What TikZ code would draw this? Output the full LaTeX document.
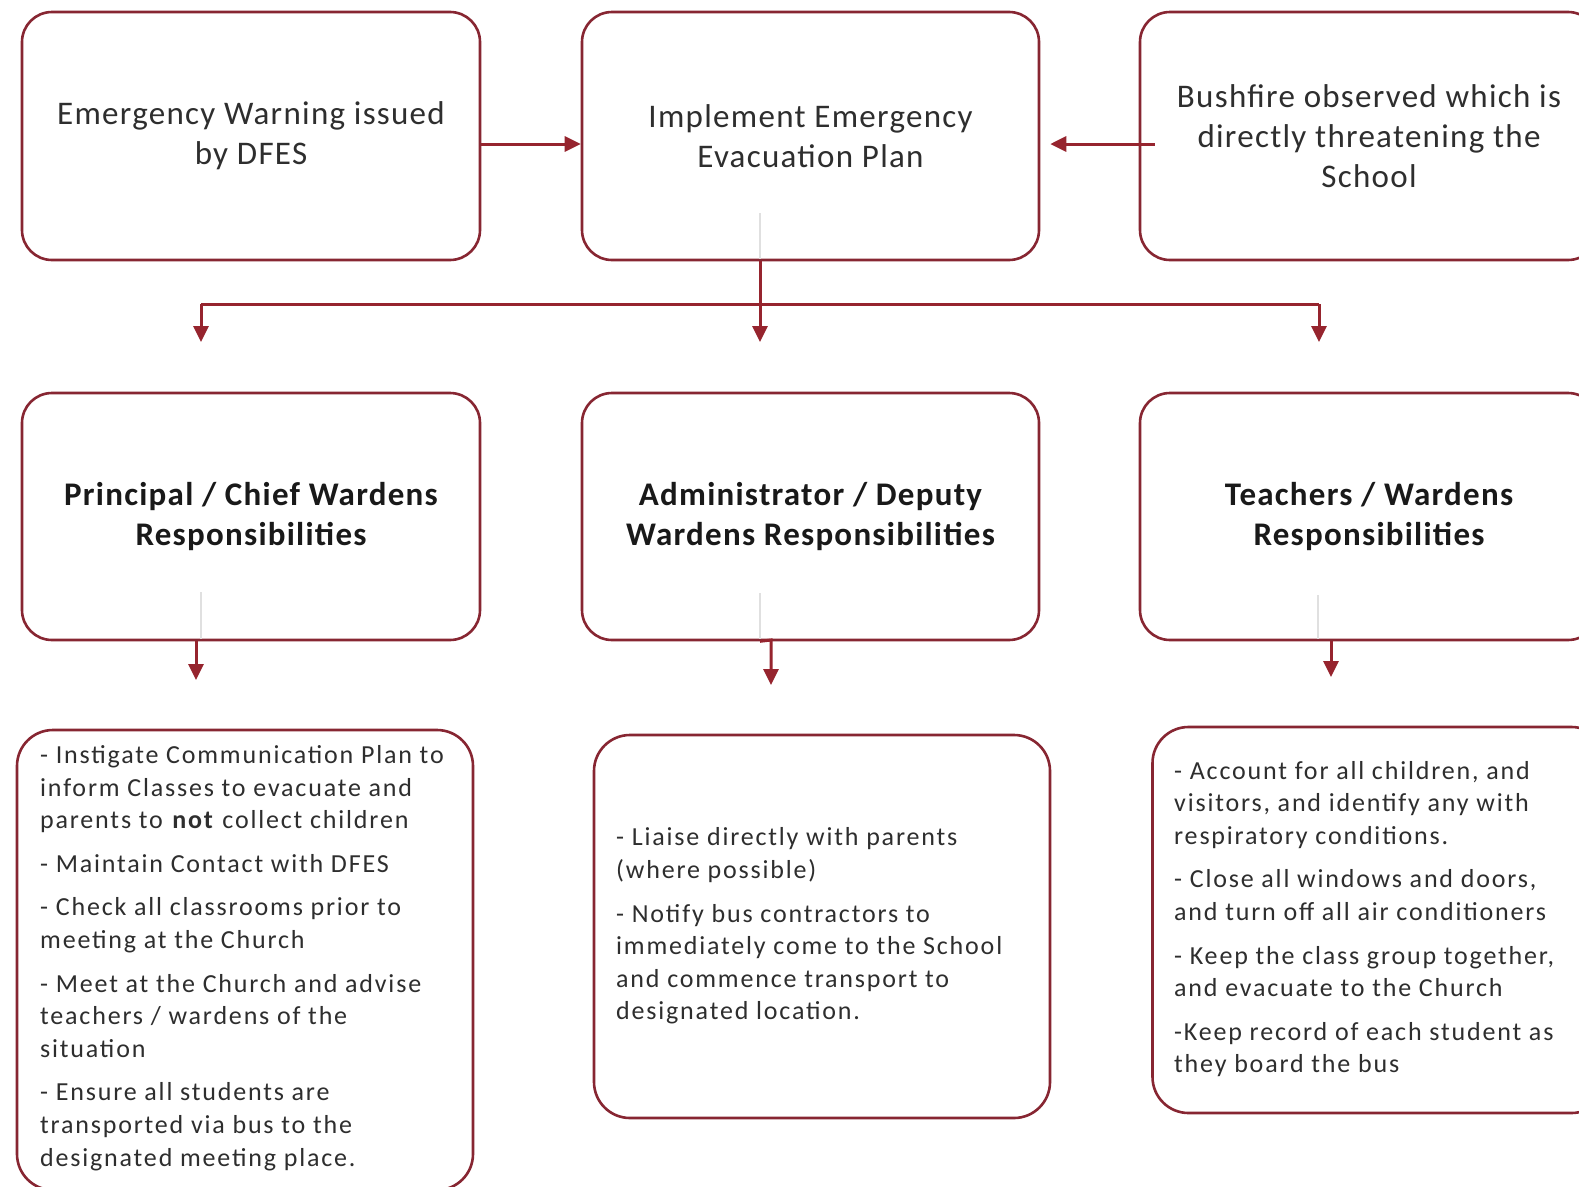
\documentclass[tikz,border=0pt]{standalone}
\usepackage{fontspec}
\setmainfont{Carlito}
\newfontfamily\topfont[LetterSpace=3.9]{Carlito}
\newfontfamily\headfont[LetterSpace=3.8]{Carlito}
\newfontfamily\bodyfont[LetterSpace=7]{Carlito}
\usetikzlibrary{arrows.meta}
\definecolor{bord}{RGB}{135,38,50}
\definecolor{arr}{RGB}{150,36,46}
\begin{document}
\begin{tikzpicture}[x=1pt,y=-1pt,
 box/.style={draw=bord, line width=2.6pt, rounded corners=30pt, fill=white, inner sep=0pt},
 conn/.style={draw=arr, line width=3pt, -{Triangle[length=16pt,width=15pt]}},
 plain/.style={draw=arr, line width=3pt},
 faint/.style={draw=black!12, line width=1.2pt},
 toptext/.style={font=\topfont\fontsize{33}{40}\selectfont, align=center, text=black!82},
 headtext/.style={font=\headfont\fontsize{33}{40}\selectfont\bfseries, align=center, text=black!90},
 bodytext/.style={font=\bodyfont\fontsize{26}{32.6}\selectfont, align=left, inner sep=0pt, anchor=west, text=black!82},
]
\useasboundingbox (0,0) rectangle (1579,1186);
\fill[white] (0,0) rectangle (1579,1186);
\begin{scope}
\clip (0,0) rectangle (1579,1186);
% top row
\node[box, toptext, minimum width=458pt, minimum height=248pt] (ew) at (251,136) {Emergency Warning issued\\by DFES};
\node[box, toptext, minimum width=457pt, minimum height=248pt] (ip) at (810.5,136) {Implement Emergency\\Evacuation Plan};
\node[box, toptext, minimum width=458pt, minimum height=248pt] (bf) at (1369,136) {Bushfire observed which is\\directly threatening the\\School};
% middle row
\node[box, headtext, minimum width=458pt, minimum height=247pt] (pc) at (251,516.5) {Principal / Chief Wardens\\Responsibilities};
\node[box, headtext, minimum width=457pt, minimum height=247pt] (ad) at (810.5,516.5) {Administrator / Deputy\\Wardens Responsibilities};
\node[box, headtext, minimum width=458pt, minimum height=247pt] (tw) at (1369,516.5) {Teachers / Wardens\\Responsibilities};
% bottom row boxes
\node[box, rounded corners=36pt, minimum width=456pt, minimum height=460pt] (bl) at (245,960) {};
\node[box, rounded corners=36pt, minimum width=456pt, minimum height=383pt] (bm) at (822,926.5) {};
\node[box, rounded corners=36pt, minimum width=455pt, minimum height=386pt] (br) at (1380,920) {};
% bottom texts
\node[bodytext] (blt) at (40,958) {- Instigate Communication Plan to\\inform Classes to evacuate and\\parents to \textbf{not} collect children\\[11pt]- Maintain Contact with DFES\\[11pt]- Check all classrooms prior to\\meeting at the Church\\[11pt]- Meet at the Church and advise\\teachers / wardens of the\\situation\\[11pt]- Ensure all students are\\transported via bus to the\\designated meeting place.};
\node[bodytext] (bmt) at (616,926) {- Liaise directly with parents\\(where possible)\\[11pt]- Notify bus contractors to\\immediately come to the School\\and commence transport to\\designated location.};
\node[bodytext] (brt) at (1174,919) {- Account for all children, and\\visitors, and identify any with\\respiratory conditions.\\[11pt]- Close all windows and doors,\\and turn off all air conditioners\\[11pt]- Keep the class group together,\\and evacuate to the Church\\[11pt]-Keep record of each student as\\they board the bus};
% faint artefact lines
\draw[faint] (760,213) -- (760,259);
\draw[faint] (201,592) -- (201,639);
\draw[faint] (760,593) -- (760,639);
\draw[faint] (1318,595) -- (1318,639);
% connectors top row
\draw[conn] ([yshift=-8pt]ew.east) -- ([yshift=-8pt]ip.west);
\draw[conn] ([xshift=16pt,yshift=-8pt]bf.west) -- ([xshift=10pt,yshift=-8pt]ip.east);
% split
\coordinate (jc) at (760,304);
\coordinate (jl) at (201,304);
\coordinate (jr) at (1319,304);
\coordinate (al) at (201,342);
\coordinate (am) at (760,342);
\coordinate (ar) at (1319,342);
\draw[conn] ([xshift=-50.5pt]ip.south) -- (am);
\draw[plain] (jl) -- (jr);
\draw[conn] (jl) -- (al);
\draw[conn] (jr) -- (ar);
% middle to bottom
\coordinate (bl1) at (196,680);
\coordinate (bm0) at (771,640);
\coordinate (bm1) at (771,685);
\coordinate (br1) at (1331,677);
\draw[conn] ([xshift=-55pt]pc.south) -- (bl1);
\draw[conn] ([xshift=-50.5pt]ad.south) -- (bm0) -- (bm1);
\draw[conn] ([xshift=-38pt]tw.south) -- (br1);
\end{scope}
\end{tikzpicture}
\end{document}
